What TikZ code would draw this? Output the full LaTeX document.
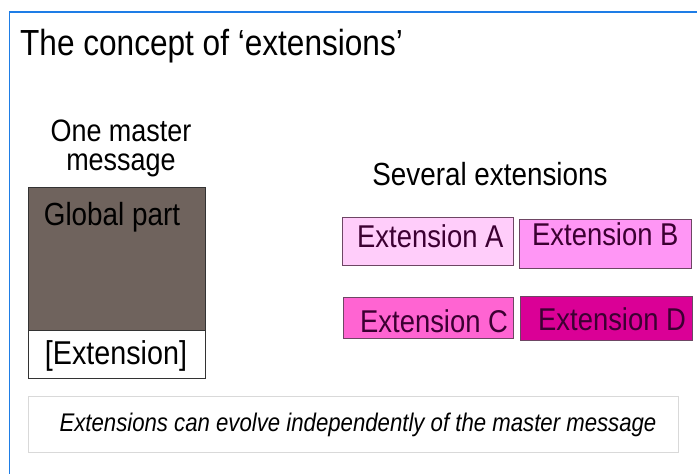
\documentclass[tikz,border=0pt]{standalone}
\usepackage{fontspec}
\setmainfont[FakeStretch=0.87]{Liberation Sans}
\begin{document}
\begin{tikzpicture}[x=1pt,y=-1pt,
  extbox/.style={draw={rgb,255:red,110;green,70;blue,100},line width=0.9pt,inner sep=0pt},
  exttext/.style={font=\fontsize{31.5}{34}\selectfont,inner sep=0pt,anchor=base west,text={rgb,255:red,60;green,0;blue,50}},
  lbl/.style={font=\fontsize{32}{36}\selectfont,inner sep=0pt,anchor=base}]
\useasboundingbox (0,0) rectangle (697,474);
\fill[white] (0,0) rectangle (697,474);
\coordinate (ftop) at (697,12);
\coordinate (fcorner) at (9.5,12);
\coordinate (fbot) at (9.5,474);
\draw[color={rgb,255:red,30;green,125;blue,230},line width=1.3pt] (ftop) -- (fcorner) -- (fbot);
\node[anchor=base west,font=\fontsize{36.3}{40}\selectfont,inner sep=0pt] (title) at (20,55) {The concept of ‘extensions’};
\node[lbl,align=center,font=\fontsize{31}{29}\selectfont] (one) at (121,170) {One master\\message};
\node[draw=black!80,line width=0.9pt,fill={rgb,255:red,111;green,99;blue,93},minimum width=177pt,minimum height=143pt,inner sep=0pt,anchor=north west] (glob) at (28,187) {};
\node[lbl] (globt) at (112,225) {Global part};
\node[draw=black!80,line width=0.9pt,fill=white,minimum width=177pt,minimum height=48pt,inner sep=0pt,anchor=north west] (extm) at (28,330) {};
\node[lbl,font=\fontsize{33}{36}\selectfont] (extmt) at (116,364) {[Extension]};
\node[lbl] (sev) at (490,185) {Several extensions};
\node[extbox,fill={rgb,255:red,255;green,205;blue,250},minimum width=171pt,minimum height=48pt,anchor=north west] (ea) at (342,217) {};
\node[extbox,fill={rgb,255:red,255;green,150;blue,245},minimum width=172pt,minimum height=49pt,anchor=north west] (eb) at (519,219) {};
\node[extbox,fill={rgb,255:red,255;green,100;blue,210},minimum width=170pt,minimum height=41pt,anchor=north west] (ec) at (343,297) {};
\node[extbox,fill={rgb,255:red,218;green,0;blue,150},minimum width=172pt,minimum height=44pt,anchor=north west] (ed) at (520,296) {};
\node[exttext] (eat) at (357,247) {Extension A};
\node[exttext] (ebt) at (532,245) {Extension B};
\node[exttext] (ect) at (360,332) {Extension C};
\node[exttext] (edt) at (538,330) {Extension D};
\node[draw=black!15,line width=1pt,minimum width=650pt,minimum height=56pt,inner sep=0pt,anchor=north west] (note) at (28,396) {};
\node[font=\fontsize{25.5}{28}\selectfont\itshape,inner sep=0pt,anchor=base] (notet) at (358,431) {Extensions can evolve independently of the master message};
\end{tikzpicture}
\end{document}
